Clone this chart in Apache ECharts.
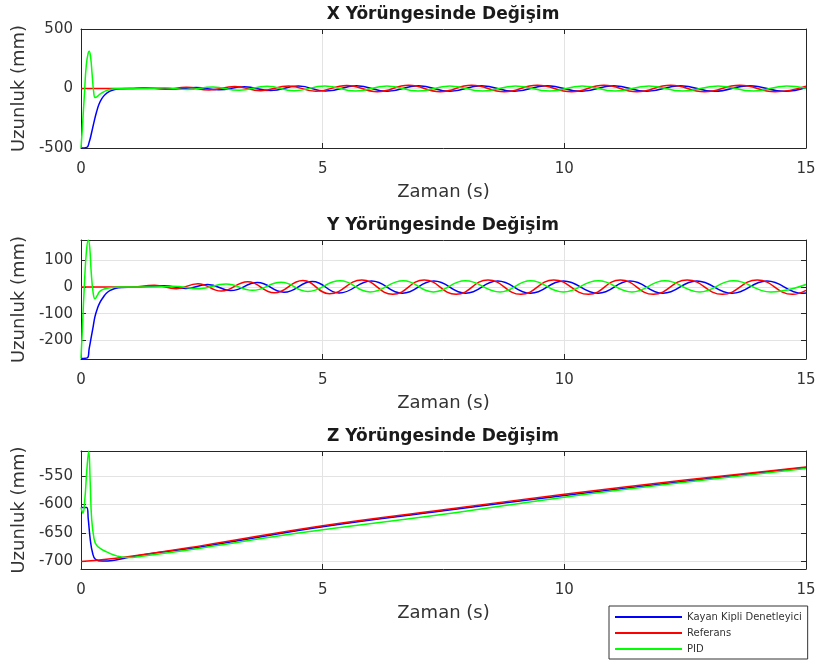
<!DOCTYPE html>
<html><head><meta charset="utf-8">
<script src="https://cdn.jsdelivr.net/npm/echarts@6/dist/echarts.min.js"></script>
<style>html,body{margin:0;padding:0;background:#fff}#c{width:819px;height:661px}</style>
</head><body><div id="c"></div>
<script>
// ---------- texts ----------
const titles = ['X Yörüngesinde Değişim', 'Y Yörüngesinde Değişim', 'Z Yörüngesinde Değişim'];
const seriesNames = ['Kayan Kipli Denetleyici', 'Referans', 'PID'];
const xLabel = 'Zaman (s)';
const yLabel = 'Uzunluk (mm)';

// ---------- ticks / ranges ----------
const xTicks = [0, 5, 10, 15];
const yTicksX = [-500, 0, 500];
const yTicksY = [-200, -100, 0, 100];
const yTicksZ = [-700, -650, -600, -550];
const yRangeX = [-500, 500];
const yRangeY = [-270, 177];
const yRangeZ = [-713, -506];

// ---------- X trajectory [t (s), value (mm)] ----------
const xBlue = [[0,-500],[0.12,-495],[0.17,-450],[0.22,-370],[0.27,-280],[0.32,-200],[0.37,-135],[0.43,-85],[0.5,-50],[0.6,-22],[0.7,-8],[0.85,-2],[1.1,0],
  [1.5,3],[1.95,-5],[2.38,8],[2.85,-11],[3.38,14],[3.92,-17],[4.5,20],[5.06,-22],[5.7,23],[6.33,-24],[6.98,24],[7.63,-24],[8.28,24],[8.96,-24],[9.64,24],[10.35,-24],[11.02,24],[11.7,-24],[12.4,24],[13.1,-24],[13.83,24],[14.56,-24],[15,8]];
const xRef = [[0,0],[0.6,0],[1.0,0],[1.3,4],[1.75,-6],[2.18,10],[2.65,-13],[3.18,17],[3.72,-19],[4.3,22],[4.86,-24],[5.5,26],[6.13,-27],[6.78,27],[7.43,-27],[8.08,27],[8.76,-27],[9.44,27],[10.15,-27],[10.82,27],[11.5,-27],[12.2,27],[12.9,-27],[13.63,27],[14.36,-27],[15,20]];
const xPid = [[0,-500],[0.03,-320],[0.07,-50],[0.11,200],[0.15,300],[0.17,313],[0.2,260],[0.23,120],[0.26,-20],[0.29,-75],[0.33,-70],[0.4,-45],[0.5,-22],[0.6,-8],[0.75,-2],[0.9,0],
  [1.28,-3],[1.73,7],[2.2,-9],[2.73,12],[3.27,-15],[3.85,18],[4.41,-19],[5.05,21],[5.68,-22],[6.33,22],[6.98,-22],[7.63,22],[8.31,-22],[8.99,22],[9.7,-22],[10.37,22],[11.05,-22],[11.75,22],[12.45,-22],[13.18,22],[13.91,-22],[14.6,22],[15,2]];

// ---------- Y trajectory ----------
const yBlue = [[0,-268],[0.13,-266],[0.17,-230],[0.21,-190],[0.25,-150],[0.29,-110],[0.34,-80],[0.39,-58],[0.46,-38],[0.53,-22],[0.62,-11],[0.72,-4],[0.85,-1],[1.1,0],
  [1.72,5],[2.17,-5],[2.62,10],[3.1,-13],[3.65,17],[4.2,-19],[4.79,21],[5.34,-22],[6.01,23],[6.65,-23],[7.3,23],[7.96,-23],[8.62,23],[9.3,-23],[9.98,23],[10.7,-23],[11.36,23],[12.04,-23],[12.74,23],[13.47,-23],[14.19,23],[14.92,-23],[15,-22]];
const yRef = [[0,0],[1.0,0],[1.52,7],[1.97,-6],[2.42,13],[2.9,-15],[3.45,20],[4.0,-21],[4.59,25],[5.14,-25],[5.81,27],[6.45,-27],[7.1,27],[7.76,-27],[8.42,27],[9.1,-27],[9.78,27],[10.5,-27],[11.16,27],[11.84,-27],[12.54,27],[13.27,-27],[13.99,27],[14.72,-27],[15,-12]];
const yPid = [[0,-268],[0.03,-150],[0.07,10],[0.11,130],[0.15,177],[0.18,150],[0.21,60],[0.25,-20],[0.29,-44],[0.34,-30],[0.39,-16],[0.48,-7],[0.6,-2],[0.8,0],[1.45,0],
  [1.9,3],[2.45,-6],[3.0,12],[3.55,-12],[4.14,18],[4.69,-16],[5.36,24],[5.98,-18],[6.67,24],[7.29,-18],[7.95,24],[8.67,-18],[9.3,24],[9.98,-18],[10.7,24],[11.4,-18],[12.08,24],[12.8,-18],[13.5,24],[14.27,-18],[15,10]];

// ---------- Z trajectory ----------
const zBlue = [[0,-605],[0.12,-605],[0.15,-625],[0.19,-660],[0.24,-685],[0.3,-696],[0.45,-699],[0.65,-698],[0.9,-694],[1.3,-688],[2.5,-674],[5,-639],[7.5,-611],[10,-584],[12.5,-559],[15,-535]];
const zRef = [[0,-700],[1,-691],[2.5,-672],[5,-637],[7.5,-609],[10,-582],[12.5,-557],[15,-534]];
const zPid = [[0,-605],[0.04,-615],[0.08,-590],[0.12,-540],[0.16,-506],[0.19,-560],[0.22,-625],[0.27,-660],[0.32,-671],[0.42,-678],[0.53,-683],[0.74,-690],[0.95,-693],[1.3,-690],[2.5,-676],[4.5,-650],[7.5,-617],[10,-587],[12.5,-561],[15,-536.5]];

const colors = ['#0000ff', '#ff0000', '#00ff00'];
const panels = [
  {title: titles[0], data: [xBlue, xRef, xPid], range: yRangeX, ticks: yTicksX},
  {title: titles[1], data: [yBlue, yRef, yPid], range: yRangeY, ticks: yTicksY},
  {title: titles[2], data: [zBlue, zRef, zPid], range: yRangeZ, ticks: yTicksZ}
];

const FONT = '"DejaVu Sans", Arial, sans-serif';
const TXT = '#333333';
const AX = '#262626';
const tops = [29, 240, 451];
const heights = [119, 119, 118];

const grid = [], xAxis = [], yAxis = [], series = [], graphic = [];
panels.forEach((p, i) => {
  grid.push({left: 81, right: 13, top: tops[i], height: heights[i], show: false, containLabel: false});
  const xBase = {type: 'value', gridIndex: i, min: xTicks[0], max: xTicks[xTicks.length - 1], interval: 5,
    axisLine: {show: true, onZero: false, lineStyle: {color: AX, width: 1}},
    axisTick: {show: true, inside: true, length: 5, lineStyle: {color: AX}},
    splitLine: {show: false}};
  xAxis.push(Object.assign({}, xBase, {position: 'bottom',
    axisLabel: {show: true, fontSize: 15, fontFamily: FONT, color: TXT, margin: 14},
    splitLine: {show: true, lineStyle: {color: '#e3e3e3', width: 1}},
    name: xLabel, nameLocation: 'middle', nameGap: 35,
    nameTextStyle: {fontSize: 18, fontFamily: FONT, color: TXT}}));
  xAxis.push(Object.assign({}, xBase, {position: 'top', axisLabel: {show: false}}));
  const yBase = {type: 'value', gridIndex: i, min: p.range[0], max: p.range[1],
    axisLine: {show: true, onZero: false, lineStyle: {color: AX, width: 1}},
    axisTick: {show: true, inside: true, length: 5, customValues: p.ticks, lineStyle: {color: AX}},
    splitLine: {show: false}};
  yAxis.push(Object.assign({}, yBase, {position: 'left',
    axisLabel: {show: true, customValues: p.ticks, fontSize: 15, fontFamily: FONT, color: TXT, margin: 8},
    splitLine: {show: true, lineStyle: {color: '#e3e3e3', width: 1}},
    name: yLabel, nameLocation: 'middle', nameGap: 43,
    nameTextStyle: {fontSize: 18, fontFamily: FONT, color: TXT}}));
  yAxis.push(Object.assign({}, yBase, {position: 'right', axisLabel: {show: false}}));
  p.data.forEach((d, k) => {
    series.push({type: 'line', name: seriesNames[k], xAxisIndex: 2 * i, yAxisIndex: 2 * i,
      data: d, showSymbol: false, symbol: 'none', smooth: 0.45, clip: true,
      lineStyle: {color: colors[k], width: 1.5}, itemStyle: {color: colors[k]}, z: 2 + k});
  });
  graphic.push({type: 'text', x: 443, y: tops[i] - 14,
    style: {text: p.title, fill: '#1a1a1a', font: 'bold 17px ' + FONT, align: 'center', verticalAlign: 'middle'}});
});

const chart = echarts.init(document.getElementById('c'), null, {renderer: 'canvas'});
chart.setOption({
  animation: false,
  backgroundColor: '#ffffff',
  grid, xAxis, yAxis, series, graphic,
  legend: {data: seriesNames, orient: 'vertical', left: 609, top: 606, icon: 'rect',
    itemWidth: 67, itemHeight: 2, itemGap: 6, padding: [6, 6, 5, 6],
    borderColor: '#333', borderWidth: 1, backgroundColor: '#fff',
    textStyle: {fontSize: 10, lineHeight: 10, fontFamily: FONT, color: '#333'}}
});
</script></body></html>
